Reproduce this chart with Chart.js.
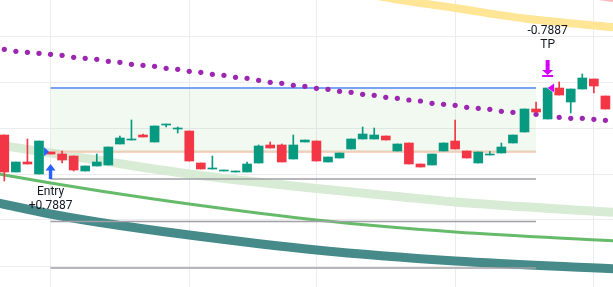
<!DOCTYPE html>
<html><head><meta charset="utf-8">
<script src="https://cdn.jsdelivr.net/npm/chart.js@4.4.1/dist/chart.umd.min.js"></script>
<style>html,body{margin:0;padding:0;background:#fff;overflow:hidden}#wrap{width:613px;height:287px;position:relative}</style>
</head><body><div id="wrap"><canvas id="c"></canvas></div>
<script>
// ---- data (bar index, price) ----
const OPEN  = [16.5,12.8,13.8,12.6,14.8,14.6,14.4,12.9,13.4,13.5,15.6,16.0,16.5,15.8,17.5,17.1,16.9,13.7,13.1,12.9,12.8,12.8,13.7,15.5,15.5,14.1,15.8,15.9,13.8,14.2,15.1,16.1,16.1,16.4,14.9,15.7,13.6,13.5,14.9,15.9,14.9,13.7,14.5,14.7,15.7,16.8,19.1,18.1,21.2,19.8,21.1,22.1,20.4];
const HIGH  = [16.5,13.8,16.1,15.9,14.8,14.9,14.4,13.4,14.6,15.3,16.4,18.0,16.6,17.4,17.6,17.3,16.9,13.7,14.4,13.0,12.9,13.8,15.5,15.8,15.6,16.5,16.0,15.9,14.3,14.7,16.1,17.3,17.2,16.4,15.6,15.7,13.6,14.6,15.7,18.0,14.9,14.8,14.85,15.7,16.5,19.1,19.8,21.2,21.8,21.1,22.6,22.1,20.4];
const LOW   = [11.9,12.8,13.6,12.6,14.6,13.7,12.9,12.9,13.4,13.5,15.6,16.0,16.3,15.8,17.3,16.7,13.9,13.1,13.1,12.9,12.8,12.8,13.7,15.2,13.8,14.1,15.8,13.9,13.8,14.2,15.1,16.1,16.1,16.0,14.9,13.6,13.3,13.5,14.9,15.1,14.2,13.7,14.5,14.7,15.7,16.8,18.8,18.1,20.5,18.7,21.1,20.7,19.1];
const CLOSE = [12.8,13.8,13.6,15.9,14.6,14.0,13.0,13.4,13.8,15.3,16.2,16.1,16.3,17.4,17.6,17.2,13.9,13.1,13.2,13.0,12.9,13.6,15.4,15.2,13.8,15.5,16.0,13.9,14.3,14.7,16.1,16.6,16.5,16.0,15.6,13.6,13.3,14.6,15.7,15.1,14.2,14.8,14.6,15.3,16.5,19.1,18.8,21.2,20.5,21.1,22.2,21.4,19.1];
const DOTS  = [25.07,24.87,24.77,24.67,24.57,24.47,24.27,24.17,24.07,23.87,23.77,23.57,23.47,23.37,23.17,23.07,22.87,22.77,22.57,22.47,22.27,22.17,21.97,21.77,21.67,21.47,21.37,21.17,21.07,20.87,20.77,20.57,20.47,20.27,20.17,20.0,19.9,19.67,19.57,19.47,19.27,19.17,19.07,18.87,18.77,18.67,18.57,18.4,18.27,18.17,18.17,18.07,17.97];

const YELLOW_X = [31, 32.8, 34, 39, 45, 53];
const YELLOW_Y = [30.6, 30.3, 30.05, 29.2, 28.15, 27.25];
const PINK_X   = [51.4, 53];
const PINK_Y   = [30.4, 30.15];
const BAND_X   = [-0.5, 4, 8.3, 11, 16, 21, 27, 34, 39, 53];
const BAND_Y   = [15.5, 14.7, 13.95, 13.45, 12.6, 11.9, 11.15, 10.35, 9.8, 8.75];
const GREEN_X  = [-0.5, 4, 8.3, 16, 27, 39, 53];
const GREEN_Y  = [12.6, 11.7, 10.9, 9.6, 8.0, 6.8, 5.9];
const TEAL_X   = [-0.5, 4, 8.3, 16, 27, 39, 53];
const TEAL_Y   = [9.7, 8.6, 7.75, 6.5, 5.0, 3.9, 3.1];

const ZONE_BARS  = [4, 46];
const TP_PRICE   = 21.2;
const ENTRY_PRICE = 14.83;
const GREY_LEVELS = [12.1, 7.85, 3.2];

const GRID_PRICES = [3.4, 8.0, 12.6, 17.2, 21.8, 26.4];
const GRID_BARS = [4, 16, 27, 39, 51];

const ENTRY = {bar: 4, label: 'Entry', qty: '+0.7887'};
const EXIT  = {bar: 47, label: 'TP', qty: '-0.7887'};

// ---- build ----
const UP = '#089981', DOWN = '#f23645';
const idx = OPEN.map((_, i) => i);
const bodyData = idx.map(i => ({x: i, y: [Math.min(OPEN[i], CLOSE[i]), Math.max(OPEN[i], CLOSE[i])]}));
const wickData = idx.map(i => ({x: i, y: [LOW[i], HIGH[i]]}));
const colors = idx.map(i => CLOSE[i] >= OPEN[i] ? UP : DOWN);
const pts = (xs, ys) => xs.map((x, k) => ({x, y: ys[k]}));
const curve = (xs, ys, color, w, order) => ({type: 'line', data: pts(xs, ys), borderColor: color, borderWidth: w,
  pointRadius: 0, cubicInterpolationMode: 'monotone', fill: false, order});
const hline = (y, color, w, order, extra) => Object.assign({type: 'line', data: ZONE_BARS.map(x => ({x, y})),
  borderColor: color, borderWidth: w, pointRadius: 0, fill: false, order}, extra || {});

const markers = {
  id: 'markers',
  afterDatasetsDraw(chart) {
    const ctx = chart.ctx, xs = chart.scales.x, ys = chart.scales.y;
    ctx.save();
    // entry
    let px = xs.getPixelForValue(ENTRY.bar), py = ys.getPixelForValue(ENTRY_PRICE);
    ctx.fillStyle = '#2962ff';
    ctx.beginPath(); ctx.moveTo(px - 6.5, py - 4.5); ctx.lineTo(px - 1.5, py); ctx.lineTo(px - 6.5, py + 4.5); ctx.closePath(); ctx.fill();
    let yl = ys.getPixelForValue(LOW[ENTRY.bar]);
    ctx.beginPath(); ctx.moveTo(px, yl + 10); ctx.lineTo(px + 5, yl + 16.5); ctx.lineTo(px - 5, yl + 16.5); ctx.closePath(); ctx.fill();
    ctx.fillRect(px - 1.7, yl + 16, 3.4, 9);
    ctx.fillStyle = '#131722'; ctx.font = '12px Roboto'; ctx.textAlign = 'center'; ctx.textBaseline = 'middle';
    ctx.fillText(ENTRY.label, px, yl + 38);
    ctx.fillText(ENTRY.qty, px, yl + 52);
    // exit
    px = xs.getPixelForValue(EXIT.bar); py = ys.getPixelForValue(TP_PRICE);
    const yh = ys.getPixelForValue(HIGH[EXIT.bar]);
    ctx.fillStyle = '#d500f9';
    ctx.fillRect(px - 2, yh - 28, 4, 10);
    ctx.beginPath(); ctx.moveTo(px - 5.5, yh - 18); ctx.lineTo(px + 5.5, yh - 18); ctx.lineTo(px, yh - 13); ctx.closePath(); ctx.fill();
    ctx.fillRect(px - 5.5, yh - 13, 11, 2);
    ctx.beginPath(); ctx.moveTo(px, py); ctx.lineTo(px + 6.5, py - 4.5); ctx.lineTo(px + 6.5, py + 4.5); ctx.closePath();
    ctx.strokeStyle = '#ffffff'; ctx.lineWidth = 1; ctx.stroke(); ctx.fill();
    ctx.fillStyle = '#131722';
    ctx.fillText(EXIT.qty, px, yh - 57);
    ctx.fillText(EXIT.label, px, yh - 43);
    ctx.restore();
  }
};

new Chart(document.getElementById('c'), {
  type: 'bar',
  data: {
    datasets: [
      {type: 'bar', data: bodyData, backgroundColor: colors, barThickness: 9, grouped: false, borderWidth: 0, order: 1},
      {type: 'bar', data: wickData, backgroundColor: colors, barThickness: 1, grouped: false, borderWidth: 0, order: 2},
      {type: 'line', data: idx.map(i => ({x: i, y: DOTS[i]})), showLine: false, pointRadius: 2.6, pointBorderWidth: 0,
        pointBackgroundColor: '#9c27b0', order: 5},
      hline(TP_PRICE, '#7aa3f5', 2, 9, {fill: {value: ENTRY_PRICE}, backgroundColor: 'rgba(76,175,80,0.08)'}),
      hline(ENTRY_PRICE, '#f6d3c2', 2.5, 10),
      hline(GREY_LEVELS[0], '#a0a0a6', 1.6, 11),
      hline(GREY_LEVELS[1], '#a0a0a6', 1.6, 11),
      hline(GREY_LEVELS[2], '#a0a0a6', 1.6, 11),
      curve(TEAL_X, TEAL_Y, '#468a8a', 9, 12),
      curve(GREEN_X, GREEN_Y, '#66bb6a', 3, 13),
      curve(BAND_X, BAND_Y, '#d8ecd5', 9, 14),
      curve(YELLOW_X, YELLOW_Y, '#ffe596', 8, 15),
      curve(PINK_X, PINK_Y, '#f9b9bb', 8, 15)
    ]
  },
  options: {
    responsive: true, maintainAspectRatio: false, animation: false, devicePixelRatio: 1,
    layout: {padding: 0, autoPadding: false},
    plugins: {legend: {display: false}, tooltip: {enabled: false}},
    scales: {
      x: {type: 'linear', min: -0.372, max: 52.656, offset: false,
        afterBuildTicks: s => { s.ticks = GRID_BARS.map(v => ({value: v})); },
        ticks: {display: false}, border: {display: false},
        grid: {color: '#ececef', lineWidth: 1, drawTicks: false, offset: false}},
      y: {type: 'linear', min: 1.3, max: 30.0,
        afterBuildTicks: s => { s.ticks = GRID_PRICES.map(v => ({value: v})); },
        ticks: {display: false}, border: {display: false},
        grid: {color: '#ececef', lineWidth: 1, drawTicks: false, offset: false}}
    }
  },
  plugins: [markers]
});
</script></body></html>
